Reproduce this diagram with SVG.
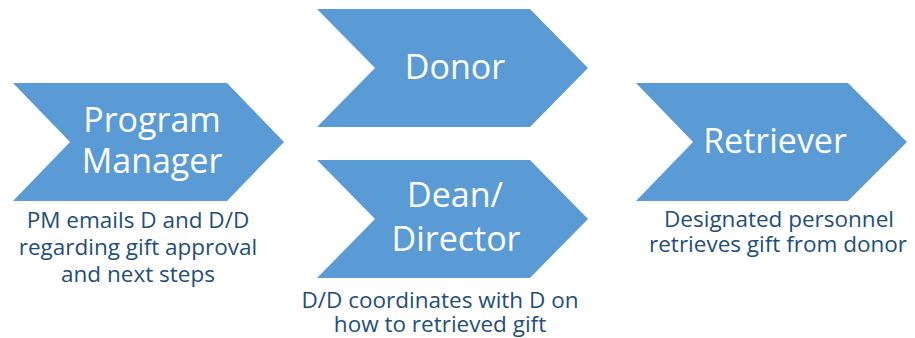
<svg xmlns="http://www.w3.org/2000/svg" width="915" height="338" viewBox="0 0 915 338">
  <style>
    .chev { fill: #5B9BD5; }
    .title { font-family: "Open Sans", "Noto Sans", sans-serif; font-size: 34px; fill: #FFFFFF; text-anchor: middle; }
    .note { font-family: "Open Sans", "Noto Sans", sans-serif; font-size: 22.5px; fill: #1F4E79; text-anchor: middle; }
  </style>
  <rect width="915" height="338" fill="#FFFFFF"/>

  <g id="program-manager">
    <polygon class="chev" points="13,83 227,83 284,142 227,201 13,201 70,142"/>
    <text class="title" x="152" y="132">Program</text>
    <text class="title" x="152" y="173">Manager</text>
    <text class="note" x="138" y="228">PM emails D and D/D</text>
    <text class="note" x="138" y="255">regarding gift approval</text>
    <text class="note" x="138" y="282">and next steps</text>
  </g>

  <g id="donor">
    <polygon class="chev" points="317,9 530,9 588,68 530,127 317,127 375,68"/>
    <text class="title" x="455" y="79">Donor</text>
  </g>

  <g id="dean-director">
    <polygon class="chev" points="317,160 530,160 588,219 530,278 317,278 375,219"/>
    <text class="title" x="455" y="207">Dean/</text>
    <text class="title" x="456" y="251">Director</text>
    <text class="note" x="440" y="308">D/D coordinates with D on</text>
    <text class="note" x="440" y="332">how to retrieved gift</text>
  </g>

  <g id="retriever">
    <polygon class="chev" points="636,83 848,83 907,142 848,201 636,201 693,142"/>
    <text class="title" x="775" y="153">Retriever</text>
    <text class="note" x="779" y="227">Designated personnel</text>
    <text class="note" x="778" y="252">retrieves gift from donor</text>
  </g>

  <g id="connectors"/>
</svg>
